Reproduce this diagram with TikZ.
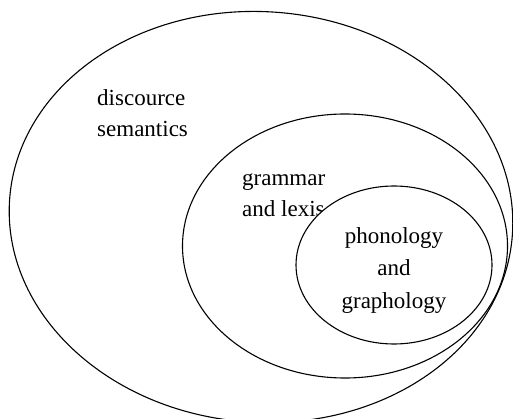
\documentclass[tikz,border=0pt]{standalone}
\usepackage{fontspec}
\setmainfont{Liberation Serif}
\begin{document}
\begin{tikzpicture}[x=1pt,y=1pt]
\tikzstyle{every node}+=[inner sep=0pt]
\tikzstyle{layer}=[black, line width=1.1pt]
\tikzstyle{levelname}=[font=\fontsize{23}{31}\selectfont]
\useasboundingbox (0,0) rectangle (513,-419);
\draw [layer, fill=white, rotate around={-4:(261,-217)}] (261,-217) ellipse (252 and 205.3);
\node [levelname, align=left, anchor=base west] (sem) at (97,-137) {discource\\semantics};
\draw [layer, fill=white] (345,-246) ellipse (162.5 and 132);
\node [levelname, align=left, anchor=base west] (gram) at (242,-217) {grammar\\and lexis};
\draw [layer, fill=white] (394,-265) ellipse (98 and 79);
\node [levelname, align=center, anchor=base, font=\fontsize{23}{32.5}\selectfont] (phon) at (394,-308) {phonology\\and\\graphology};
\end{tikzpicture}
\end{document}
